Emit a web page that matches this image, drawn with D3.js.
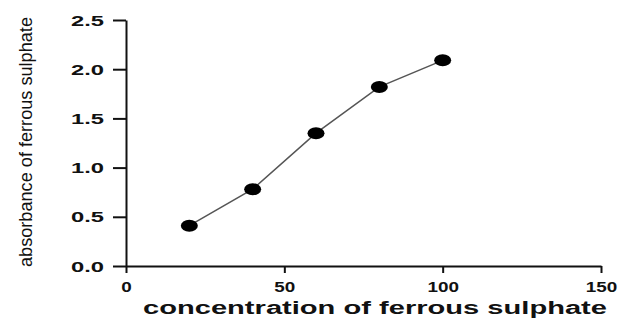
<!DOCTYPE html>
<html>
<head>
<meta charset="utf-8">
<script src="https://cdn.jsdelivr.net/npm/d3@7"></script>
<style>
  body { margin: 0; background: #fff; }
  svg { display: block; }
</style>
</head>
<body>
<div id="chart"></div>
<script>
// data
const concentrations = [20, 40, 60, 80, 100];
const absorbance = [0.41, 0.78, 1.35, 1.82, 2.09];
const xTicks = [0, 50, 100, 150];
const yTicks = [0, 0.5, 1.0, 1.5, 2.0, 2.5];
const xTitle = "concentration of ferrous sulphate";
const yTitle = "absorbance of ferrous sulphate";

const width = 635, height = 320;
const svg = d3.select("#chart").append("svg")
  .attr("width", width)
  .attr("height", height);

const x = d3.scaleLinear().domain([0, 150]).range([126, 601]);
const y = d3.scaleLinear().domain([0, 2.5]).range([266, 20]);

// axes
const xAxis = svg.append("g")
  .attr("transform", `translate(0,${y(0)})`)
  .call(d3.axisBottom(x).tickValues(xTicks).tickSize(7).tickSizeOuter(0));

const yAxis = svg.append("g")
  .attr("transform", `translate(${x(0)},0)`)
  .call(d3.axisLeft(y).tickValues(yTicks).tickSize(13).tickSizeOuter(0)
    .tickFormat(d3.format(".1f")));

[xAxis, yAxis].forEach(g => {
  g.select(".domain").attr("stroke", "#111").attr("stroke-width", 2);
  g.selectAll(".tick line").attr("stroke", "#111").attr("stroke-width", 2);
  g.selectAll("text")
    .attr("fill", "#111")
    .style("font-family", "Liberation Sans, Arial, sans-serif")
    .style("font-weight", "bold")
    .style("font-size", "14px")
    .attr("lengthAdjust", "spacingAndGlyphs");
});

xAxis.selectAll(".tick text")
  .attr("y", 26).attr("dy", 0)
  .attr("textLength", d => String(d).length * 10.5);

yAxis.selectAll(".tick text")
  .attr("x", -22).attr("dy", "0.36em")
  .attr("textLength", 33);

// line
const line = d3.line()
  .x((d, i) => x(concentrations[i]))
  .y(d => y(d));

svg.append("path")
  .datum(absorbance)
  .attr("fill", "none")
  .attr("stroke", "#555")
  .attr("stroke-width", 1.5)
  .attr("d", line);

// markers
svg.selectAll("ellipse.pt")
  .data(absorbance)
  .join("ellipse")
  .attr("class", "pt")
  .attr("cx", (d, i) => x(concentrations[i]))
  .attr("cy", d => y(d))
  .attr("rx", 8.5)
  .attr("ry", 6)
  .attr("fill", "#000");

// axis titles
svg.append("text")
  .attr("x", 375)
  .attr("y", 314)
  .attr("text-anchor", "middle")
  .style("font-family", "Liberation Sans, Arial, sans-serif")
  .style("font-weight", "bold")
  .style("font-size", "18px")
  .attr("fill", "#111")
  .attr("textLength", 464)
  .attr("lengthAdjust", "spacingAndGlyphs")
  .text(xTitle);

svg.append("text")
  .attr("transform", "translate(32,142) rotate(-90)")
  .attr("text-anchor", "middle")
  .style("font-family", "Liberation Sans, Arial, sans-serif")
  .style("font-size", "19px")
  .attr("fill", "#111")
  .attr("textLength", 250)
  .attr("lengthAdjust", "spacingAndGlyphs")
  .text(yTitle);
</script>
</body>
</html>
